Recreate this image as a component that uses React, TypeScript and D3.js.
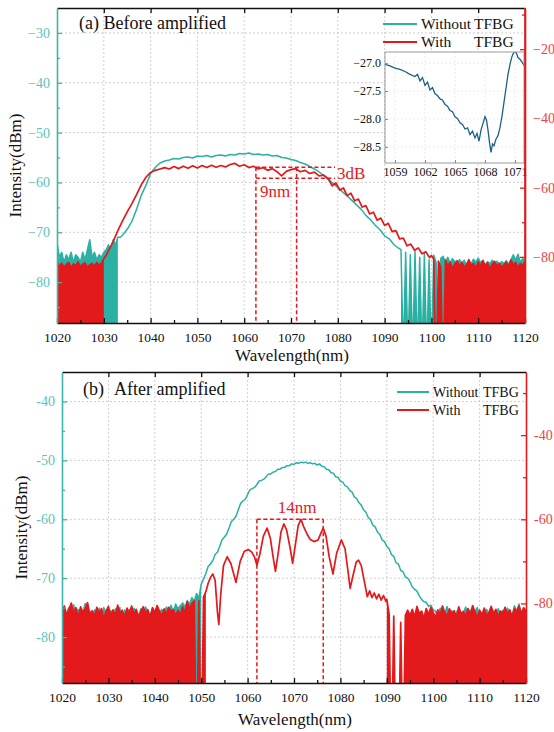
import { useEffect, useRef } from 'react'
import * as d3 from 'd3'

type Pt = [number, number]

const TEAL = '#2bb0a4'
const TEAL_AXIS = '#3db5aa'
const TEAL_TEXT = '#5cc3b8'
const RED = '#e3191c'
const RED_TEXT = '#ec4246'
const INSET_LINE = '#1c6283'
const FONT = 'Liberation Serif, DejaVu Serif, serif'
const NOISE_STEP = 0.5

// wavelength ticks (nm)
const xMajor = [1020, 1030, 1040, 1050, 1060, 1070, 1080, 1090, 1100, 1110, 1120]
const xMinor = [1025, 1035, 1045, 1055, 1065, 1075, 1085, 1095, 1105, 1115]

// ---------- (a) Before amplified ----------
// teal = without TFBG (left axis, dBm), red = with TFBG (right axis, dBm)
const aTealNoiseLeft = [ // from 1020 nm, 0.5 nm apart
  -72.0, -75.0, -74.0, -76.0, -74.5, -75.5, -74.0, -76.0, -74.5, -75.0,
  -76.0, -74.0, -75.5, -73.5, -71.5, -75.0, -74.0, -75.5, -74.5, -75.0,
  -74.0, -73.5, -72.5, -73.8, -71.5, -72.5, -71.0,
]
const aTealCurve: Pt[] = [
  [1033.5, -71.0], [1034, -70.6], [1035, -69.4], [1036, -67.8], [1037, -65.4], [1038, -62.6],
  [1039, -60.6], [1040, -58.2], [1041, -57.0], [1042, -56.1], [1043, -55.7], [1044, -55.5],
  [1045, -55.2], [1046, -55.3], [1047, -55.0], [1048, -54.9], [1049, -55.1], [1050, -54.7],
  [1051, -54.8], [1052, -54.6], [1053, -54.9], [1054, -54.6], [1055, -54.5], [1056, -54.7],
  [1057, -54.4], [1058, -54.5], [1059, -54.2], [1060, -54.3], [1061, -54.1], [1062, -54.4],
  [1063, -54.3], [1064, -54.5], [1065, -54.4], [1066, -54.7], [1067, -54.6], [1068, -55.0],
  [1069, -55.1], [1070, -55.4], [1071, -55.6], [1072, -56.0], [1073, -56.3], [1074, -56.8],
  [1075, -57.3], [1076, -57.9], [1077, -58.6], [1078, -59.4], [1079, -60.2], [1080, -61.0],
  [1081, -61.9], [1082, -62.7], [1083, -63.6], [1084, -64.5], [1085, -65.4], [1086, -66.6],
  [1087, -67.5], [1088, -68.6], [1089, -69.5], [1090, -70.7], [1091, -71.3], [1092, -72.5],
  [1093, -73.2],
]
const aTealNoiseRight = [ // from 1093.5 nm
  -73.5, -95.0, -74.0, -95.0, -74.5, -95.0, -73.8, -95.0, -75.0, -95.0,
  -74.2, -95.0, -75.5, -95.0, -74.6, -76.0, -95.0, -75.2, -74.8, -76.0,
  -75.0, -76.2, -75.3, -75.8, -76.4, -75.5, -76.2, -75.6, -76.6, -75.8,
  -76.3, -75.4, -76.0, -75.2, -76.1, -75.7, -76.5, -75.9, -76.3, -75.6,
  -76.2, -75.8, -76.6, -75.9, -76.3, -75.7, -76.4, -75.5, -74.5, -75.6,
  -74.4, -76.0, -75.3, -76.0,
]
const aRedNoiseLeft = [ // from 1020 nm
  -81.5, -82.8, -81.8, -83.0, -82.2, -81.6, -83.2, -82.0, -82.6, -81.4,
  -82.9, -82.1, -81.7, -83.0, -82.3, -81.9, -82.7, -81.6, -82.4, -81.8,
  -80.5,
]
const aRedCurve: Pt[] = [
  [1030.5, -79.6], [1031, -78.2], [1032, -75.6], [1033, -72.4], [1034, -69.6], [1035, -67.0],
  [1036, -64.6], [1037, -62.0], [1038, -59.2], [1039, -57.0], [1040, -55.6], [1041, -55.0],
  [1042, -54.6], [1043, -54.2], [1044, -54.6], [1045, -53.9], [1046, -54.5], [1047, -53.8],
  [1048, -54.4], [1049, -53.7], [1050, -54.3], [1051, -53.6], [1052, -54.2], [1053, -53.5],
  [1054, -54.1], [1055, -53.6], [1056, -54.0], [1057, -53.3], [1058, -53.0], [1059, -53.8],
  [1060, -53.4], [1061, -54.2], [1062, -53.8], [1063, -54.6], [1064, -54.2], [1065, -55.0],
  [1066, -54.5], [1067, -55.4], [1068, -56.6], [1069, -55.3], [1070, -54.8], [1071, -54.5],
  [1072, -55.4], [1073, -55.0], [1074, -55.9], [1075, -55.5], [1076, -56.6], [1077, -56.4],
  [1078, -57.5], [1078.8, -59.5], [1079.6, -58.6], [1080.4, -60.7], [1081.2, -60.1], [1082, -62.3],
  [1082.8, -61.6], [1083.6, -63.8], [1084.4, -63.3], [1085.2, -65.6], [1086, -65.2], [1086.8, -67.6],
  [1087.6, -67.1], [1088.4, -69.4], [1089.2, -68.8], [1090, -70.9], [1090.8, -70.3], [1091.6, -72.7],
  [1092.4, -72.4], [1093.2, -74.8], [1094, -74.6], [1094.8, -76.8], [1095.6, -76.3], [1096.4, -78.1],
  [1097.2, -77.4], [1098, -79.1], [1098.8, -78.5], [1099.6, -80.2], [1100, -79.6],
]
const aRedNoiseRight = [ // from 1100.5 nm
  -80.6, -120, -81.2, -83.0, -120, -80.9, -82.7, -81.5, -83.4, -82.0,
  -81.1, -82.8, -81.6, -83.1, -82.2, -80.8, -82.5, -81.9, -83.3, -81.4,
  -82.6, -81.0, -82.9, -81.7, -83.5, -82.1, -81.3, -82.7, -81.8, -83.0,
  -82.3, -81.5, -82.8, -80.9, -82.4, -81.6, -83.2, -81.9, -82.5, -81.2,
]
// 3 dB / 9 nm marker (right axis units)
const aBand = [1062.5, 1071.2]
const aBandEnd = 1079.4
const aLevels = [-54.1, -57.3]

// inset: zoom of the with-TFBG spectrum
const insetCurve: Pt[] = [
  [1058.0, -27.02], [1058.5, -27.05], [1059.0, -27.09], [1059.5, -27.11], [1060.0, -27.15],
  [1060.5, -27.2], [1061.0, -27.24], [1061.25, -27.2], [1061.5, -27.32], [1061.75, -27.26],
  [1062.0, -27.4], [1062.25, -27.34], [1062.5, -27.48], [1062.75, -27.44], [1063.0, -27.55],
  [1063.25, -27.58], [1063.5, -27.64], [1063.75, -27.66], [1064.0, -27.74], [1064.25, -27.77],
  [1064.5, -27.85], [1064.75, -27.87], [1065.0, -27.96], [1065.25, -27.99], [1065.5, -28.07],
  [1065.75, -28.1], [1066.0, -28.18], [1066.25, -28.16], [1066.5, -28.28], [1066.75, -28.22],
  [1067.0, -28.34], [1067.2, -28.26], [1067.4, -28.4], [1067.6, -28.2], [1067.8, -28.08],
  [1068.0, -27.96], [1068.15, -28.02], [1068.3, -28.2], [1068.45, -28.42], [1068.6, -28.6],
  [1068.75, -28.45], [1068.9, -28.48], [1069.1, -28.36], [1069.3, -28.3], [1069.5, -28.15],
  [1069.7, -27.95], [1069.9, -27.7], [1070.1, -27.45], [1070.3, -27.2], [1070.5, -27.02],
  [1070.7, -26.88], [1070.9, -26.8], [1071.1, -26.8], [1071.3, -26.9], [1071.5, -26.93],
  [1071.7, -26.98], [1071.9, -27.04],
]
const insetXTicks = [1059, 1062, 1065, 1068, 1071]
const insetYTicks = [-27.0, -27.5, -28.0, -28.5]

// ---------- (b) After amplified ----------
const bTealNoiseLeft = [ // from 1020 nm
  -75.5, -76.8, -75.9, -75.0, -76.4, -74.5, -76.1, -75.3, -76.7, -75.8,
  -74.3, -76.2, -75.6, -76.9, -75.4, -76.0, -75.1, -76.5, -75.0, -75.8,
  -76.3, -75.5, -76.7, -75.2, -75.9, -75.0, -94.0, -75.4, -76.2, -75.3,
  -76.0, -75.1, -75.7, -76.4, -75.2, -75.8, -74.9, -75.6, -76.3, -75.1,
  -75.7, -74.8, -75.9, -75.3, -76.1, -74.9, -75.5, -74.6, -75.8, -74.4,
  -75.2, -74.7, -74.2, -74.9, -73.8, -74.4, -73.3, -73.9, -72.6, -73.4,
  -71.0,
]
const bTealCurve = [ // from 1050.5 nm
  -70.2, -69.2, -68.0, -67.6, -67.0, -66.0, -65.6, -64.6, -63.5, -63.0,
  -62.5, -61.5, -60.4, -60.0, -59.5, -58.4, -57.3, -56.9, -56.6, -55.8,
  -55.0, -54.8, -54.6, -54.1, -53.5, -53.4, -53.2, -52.8, -52.3, -52.3,
  -52.0, -51.9, -51.5, -51.5, -51.2, -51.2, -50.9, -50.9, -50.6, -50.7,
  -50.4, -50.5, -50.3, -50.4, -50.3, -50.5, -50.4, -50.6, -50.5, -50.8,
  -50.6, -51.0, -51.1, -51.5, -51.6, -52.1, -52.2, -52.8, -52.9, -53.5,
  -53.7, -54.3, -54.5, -55.1, -55.4, -56.2, -56.5, -57.2, -57.6, -58.4,
  -58.8, -59.7, -60.1, -61.0, -61.3, -62.2, -62.6, -63.5, -63.8, -64.6,
  -65.0, -66.0, -66.3, -67.4, -67.6, -68.7, -68.9, -69.8, -70.0, -70.6,
  -71.5, -71.9, -72.2, -73.0, -73.6, -74.0, -74.1, -74.8, -74.6, -75.4,
]
const bTealNoiseRight = [ // from 1100.5 nm
  -75.6, -76.4, -75.1, -76.8, -75.9, -74.8, -76.2, -75.5, -77.0, -75.8,
  -75.2, -76.6, -75.9, -74.9, -76.3, -75.4, -76.9, -75.7, -75.0, -76.5,
  -75.8, -76.9, -75.3, -76.1, -74.9, -75.7, -76.6, -75.2, -76.0, -75.5,
  -76.8, -75.1, -75.9, -76.4, -74.7, -75.6, -74.4, -76.2, -75.4, -75.9,
]
const bRedNoiseLeft = [ // from 1020 nm
  -81.8, -80.6, -82.9, -81.4, -79.9, -82.3, -81.0, -83.4, -80.8, -82.1,
  -81.3, -79.8, -82.6, -81.7, -83.1, -80.9, -82.4, -81.2, -83.6, -81.9,
  -80.7, -82.8, -81.5, -83.0, -80.4, -82.2, -81.6, -83.3, -81.1, -82.5,
  -80.6, -82.7, -81.4, -83.2, -81.9, -80.8, -82.3, -81.5, -83.5, -81.0,
  -82.4, -80.5, -81.8, -83.1, -81.3, -82.6, -80.9, -82.0, -81.4, -83.0,
  -81.6, -82.8, -80.8, -82.2, -79.6, -81.4, -80.0, -79.4, -120, -79.3,
  -120, -78.5, -77.2,
]
const bRedCurve: Pt[] = [
  [1051.5, -75.2], [1052, -73.8], [1052.5, -73.0], [1053, -74.5], [1053.5, -82.0], [1053.8, -85.0],
  [1054.2, -78.0], [1054.8, -71.0], [1055.6, -68.9], [1056.4, -70.5], [1057.5, -75.0], [1058.4, -70.0],
  [1059.3, -67.6], [1060.2, -67.2], [1060.9, -67.8], [1061.5, -69.0], [1062.0, -70.9], [1062.6, -68.5],
  [1063.4, -64.0], [1064.2, -62.1], [1064.9, -64.5], [1065.5, -69.0], [1066.0, -72.4], [1066.6, -68.0],
  [1067.2, -63.0], [1067.8, -61.1], [1068.4, -62.5], [1069.2, -67.0], [1069.7, -70.5], [1070.3, -66.0],
  [1070.9, -61.5], [1071.5, -60.0], [1072.1, -61.8], [1072.8, -63.5], [1073.5, -64.8], [1074.3, -65.3],
  [1075.2, -64.9], [1075.8, -63.3], [1076.3, -62.1], [1076.9, -64.0], [1077.6, -69.0], [1078.4, -73.0],
  [1079.2, -68.0], [1080.2, -64.9], [1081.0, -67.0], [1081.6, -72.0], [1082.1, -76.4], [1082.8, -73.0],
  [1083.4, -70.2], [1083.9, -69.7], [1084.5, -71.0], [1085.2, -75.0], [1085.8, -78.4], [1086.3, -77.0],
  [1086.8, -78.6], [1087.3, -77.5], [1087.8, -78.9], [1088.3, -77.8], [1088.8, -79.2], [1089.3, -78.1],
  [1089.8, -79.5],
]
const bRedNoiseRight = [ // from 1090 nm
  -79.0, -82.5, -120, -83.0, -120, -120, -84.5, -120, -82.8, -81.6,
  -82.9, -81.4, -83.2, -80.7, -82.4, -81.8, -83.5, -81.2, -82.6, -80.9,
  -82.1, -83.4, -81.5, -82.8, -80.6, -82.2, -83.0, -81.3, -82.5, -81.7,
  -83.3, -80.8, -82.4, -81.9, -83.1, -81.2, -82.7, -80.5, -82.0, -83.4,
  -81.6, -82.8, -81.1, -83.0, -82.2, -80.7, -82.5, -81.4, -83.2, -81.8,
  -82.3, -80.9, -82.6, -81.5, -83.1, -81.2, -82.0, -80.6, -82.4, -81.0,
  -81.8,
]
// 14 nm marker (right axis units)
const bBand = [1062.0, 1076.3]
const bLevel = -60

const spread = (start: number, vals: number[]): Pt[] => vals.map((v, i) => [start + i * NOISE_STEP, v])

const panels = [
  {
    id: 'a', left: 57, right: 525, top: 8, bottom: 323,
    yLeftDomain: [-88.2, -25], yRightDomain: [-99.1, -8.1],
    leftMajor: [-80, -70, -60, -50, -40, -30], leftMinor: [-85, -75, -65, -55, -45, -35],
    rightMajor: [-80, -60, -40, -20], rightMinor: [-90, -70, -50, -30, -10],
    minus: '\u2212', xPad: 9.5, yLabelX: 21, xLabelY: 361,
    teal: { noise: [spread(1020, aTealNoiseLeft), spread(1093.5, aTealNoiseRight)], curve: aTealCurve },
    red: { noise: [spread(1020, aRedNoiseLeft), spread(1100.5, aRedNoiseRight)], curve: aRedCurve },
    title: [{ t: '(a) Before amplified', x: 79 }], titleY: 29,
    legend: { x0: 383, x1: 417, tx: 421, tx2: 474, y: 24, size: 15.5 },
  },
  {
    id: 'b', left: 62, right: 526, top: 372, bottom: 683,
    yLeftDomain: [-87.8, -35], yRightDomain: [-98.9, -25],
    leftMajor: [-80, -70, -60, -50, -40], leftMinor: [-85, -75, -65, -55, -45],
    rightMajor: [-80, -60, -40], rightMinor: [-90, -70, -50, -30],
    minus: '-', xPad: 9.5, yLabelX: 27, xLabelY: 725,
    teal: { noise: [spread(1020, bTealNoiseLeft), spread(1100.5, bTealNoiseRight)], curve: spread(1050.5, bTealCurve) },
    red: { noise: [spread(1020, bRedNoiseLeft), spread(1090, bRedNoiseRight)], curve: bRedCurve },
    title: [{ t: '(b)', x: 83 }, { t: 'After amplified', x: 114 }], titleY: 395,
    legend: { x0: 397, x1: 429, tx: 433, tx2: 483, y: 392, size: 14 },
  },
]

export default function App() {
  const svgRef = useRef<SVGSVGElement>(null)

  useEffect(() => {
    const svg = d3.select(svgRef.current)
    svg.selectAll('*').remove()
    svg.append('rect').attr('width', 554).attr('height', 732).attr('fill', '#fff')

    panels.forEach((p) => {
      const x = d3.scaleLinear().domain([1020, 1120]).range([p.left, p.right])
      const yL = d3.scaleLinear().domain(p.yLeftDomain).range([p.bottom, p.top])
      const yR = d3.scaleLinear().domain(p.yRightDomain).range([p.bottom, p.top])
      const fmt = (d: d3.NumberValue) => String(d).replace('-', p.minus)
      const g = svg.append('g')

      // grid
      const grid = g.append('g').attr('stroke', '#c4c4c4').attr('stroke-width', 0.8).attr('stroke-dasharray', '2,2')
      xMajor.slice(1, -1).forEach((v) =>
        grid.append('line').attr('x1', x(v)).attr('x2', x(v)).attr('y1', p.top).attr('y2', p.bottom))
      p.leftMajor.forEach((v) =>
        grid.append('line').attr('x1', p.left).attr('x2', p.right).attr('y1', yL(v)).attr('y2', yL(v)))

      // series
      const clipId = `clip-${p.id}`
      svg.append('clipPath').attr('id', clipId).append('rect')
        .attr('x', p.left).attr('y', p.top).attr('width', p.right - p.left).attr('height', p.bottom - p.top)
      const plot = g.append('g').attr('clip-path', `url(#${clipId})`)
      const drawSeries = (s: { noise: Pt[][]; curve: Pt[] }, y: d3.ScaleLinear<number, number>, color: string, w: number) => {
        const area = d3.area<Pt>().x((d) => x(d[0])).y0(p.bottom).y1((d) => y(d[1]))
        s.noise.forEach((n) => plot.append('path').attr('d', area(n)).attr('fill', color))
        const line = d3.line<Pt>().x((d) => x(d[0])).y((d) => y(d[1]))
        plot.append('path')
          .attr('d', line([...s.noise[0], ...s.curve, ...s.noise[1]]))
          .attr('fill', 'none').attr('stroke', color).attr('stroke-width', w).attr('stroke-linejoin', 'round')
      }
      drawSeries(p.teal, yL, TEAL, 1.5)
      drawSeries(p.red, yR, RED, 1.7)

      // markers
      const mk = g.append('g').attr('stroke', RED).attr('stroke-width', 1.5).attr('stroke-dasharray', '4,2.5').attr('fill', 'none')
      if (p.id === 'a') {
        aLevels.forEach((lv) =>
          mk.append('line').attr('x1', x(aBand[0])).attr('x2', x(aBandEnd)).attr('y1', yR(lv)).attr('y2', yR(lv)))
        aBand.forEach((b) =>
          mk.append('line').attr('x1', x(b)).attr('x2', x(b)).attr('y1', yR(aLevels[0])).attr('y2', p.bottom))
        g.append('text').attr('x', x(aBandEnd) + 2).attr('y', yR(aLevels[1]) + 1).text('3dB')
          .attr('fill', RED).attr('font-family', FONT).attr('font-size', 17)
        g.append('text').attr('x', x(aBand[0]) + 4).attr('y', yR(aLevels[1]) + 19).text('9nm')
          .attr('fill', RED).attr('font-family', FONT).attr('font-size', 17)
      } else {
        mk.append('line').attr('x1', x(bBand[0])).attr('x2', x(bBand[1])).attr('y1', yR(bLevel)).attr('y2', yR(bLevel))
        bBand.forEach((b) =>
          mk.append('line').attr('x1', x(b)).attr('x2', x(b)).attr('y1', yR(bLevel)).attr('y2', p.bottom))
        g.append('text').attr('x', (x(bBand[0]) + x(bBand[1])) / 2 + 7).attr('y', yR(bLevel) - 6.5).text('14nm')
          .attr('text-anchor', 'middle').attr('fill', RED).attr('font-family', FONT).attr('font-size', 17)
      }

      // axes
      const addAxis = (axis: d3.Axis<d3.NumberValue>, tr: string, color: string, textColor: string, size: number, keepDomain: boolean) => {
        const a = g.append('g').attr('transform', tr).call(axis)
        a.attr('font-family', FONT).attr('font-size', size)
        a.selectAll('.domain').attr('stroke', color).attr('stroke-width', 1.6)
        a.selectAll('.tick line').attr('stroke', color).attr('stroke-width', 1.3)
        a.selectAll('.tick text').attr('fill', textColor)
        if (!keepDomain) a.select('.domain').remove()
      }
      const blank = () => ''
      const xfmt = d3.format('d')
      addAxis(d3.axisBottom(x).tickValues(xMinor).tickSize(-3).tickFormat(blank), `translate(0,${p.bottom})`, '#111', '#111', 13.5, false)
      addAxis(d3.axisBottom(x).tickValues(xMajor).tickSize(-5).tickSizeOuter(0).tickPadding(p.xPad).tickFormat(xfmt), `translate(0,${p.bottom})`, '#111', '#111', 13.5, true)
      addAxis(d3.axisTop(x).tickValues(xMajor.slice(1, -1)).tickSize(-5).tickSizeOuter(0).tickFormat(blank), `translate(0,${p.top})`, '#111', '#111', 13.5, true)
      addAxis(d3.axisLeft(yL).tickValues(p.leftMinor).tickSize(-3).tickFormat(blank), `translate(${p.left},0)`, TEAL_AXIS, TEAL_TEXT, 14, false)
      addAxis(d3.axisLeft(yL).tickValues(p.leftMajor).tickSize(-5).tickSizeOuter(0).tickPadding(7).tickFormat(fmt), `translate(${p.left},0)`, TEAL_AXIS, TEAL_TEXT, 14, true)
      addAxis(d3.axisRight(yR).tickValues(p.rightMinor).tickSize(-3).tickFormat(blank), `translate(${p.right},0)`, RED, RED_TEXT, 14, false)
      addAxis(d3.axisRight(yR).tickValues(p.rightMajor).tickSize(-5).tickSizeOuter(0).tickPadding(8).tickFormat(fmt), `translate(${p.right},0)`, RED, RED_TEXT, 14, true)

      // axis titles
      g.append('text').attr('transform', `translate(${p.yLabelX},${(p.top + p.bottom) / 2}) rotate(-90)`)
        .attr('text-anchor', 'middle').attr('font-family', FONT).attr('font-size', 17).attr('fill', '#111')
        .text('Intensity(dBm)')
      g.append('text').attr('x', (p.left + p.right) / 2 + 1).attr('y', p.xLabelY)
        .attr('text-anchor', 'middle').attr('font-family', FONT).attr('font-size', 17).attr('fill', '#111')
        .text('Wavelength(nm)')

      // panel title
      p.title.forEach((t) =>
        g.append('text').attr('x', t.x).attr('y', p.titleY).attr('font-family', FONT).attr('font-size', 18)
          .attr('fill', '#111').text(t.t))

      // legend
      const lg = p.legend
      ;[{ c: TEAL, a: 'Without', b: 'TFBG' }, { c: RED, a: 'With', b: 'TFBG' }].forEach((e, i) => {
        const yy = lg.y + i * 18
        g.append('line').attr('x1', lg.x0).attr('x2', lg.x1).attr('y1', yy).attr('y2', yy)
          .attr('stroke', e.c).attr('stroke-width', 2)
        const tx = g.append('g').attr('font-family', FONT).attr('font-size', lg.size).attr('fill', '#111')
        tx.append('text').attr('x', lg.tx).attr('y', yy + 5).text(e.a)
        tx.append('text').attr('x', lg.tx2).attr('y', yy + 5).text(e.b)
      })

      // inset
      if (p.id === 'a') {
        const ix = d3.scaleLinear().domain([1058, 1071.9]).range([385, 524])
        const iy = d3.scaleLinear().domain([-28.79, -26.8]).range([163, 52])
        const ig = g.append('g')
        ig.append('rect').attr('x', 385).attr('y', 52).attr('width', 139).attr('height', 111).attr('fill', '#fff')
        const igrid = ig.append('g').attr('stroke', '#e2e2e2').attr('stroke-width', 0.7).attr('stroke-dasharray', '2,2')
        insetXTicks.forEach((v) => igrid.append('line').attr('x1', ix(v)).attr('x2', ix(v)).attr('y1', 52).attr('y2', 163))
        insetYTicks.forEach((v) => igrid.append('line').attr('x1', 385).attr('x2', 524).attr('y1', iy(v)).attr('y2', iy(v)))
        svg.append('clipPath').attr('id', 'clip-inset').append('rect').attr('x', 385).attr('y', 52).attr('width', 139).attr('height', 111)
        ig.append('path').attr('clip-path', 'url(#clip-inset)')
          .attr('d', d3.line<Pt>().x((d) => ix(d[0])).y((d) => iy(d[1]))(insetCurve))
          .attr('fill', 'none').attr('stroke', INSET_LINE).attr('stroke-width', 1.3)
        ig.append('rect').attr('x', 385).attr('y', 52).attr('width', 139).attr('height', 111)
          .attr('fill', 'none').attr('stroke', '#999').attr('stroke-width', 1)
        const ia = ig.append('g').attr('transform', 'translate(0,163)')
          .call(d3.axisBottom(ix).tickValues(insetXTicks).tickSize(-3).tickSizeOuter(0).tickPadding(4).tickFormat(d3.format('d')))
        const il = ig.append('g').attr('transform', 'translate(385,0)')
          .call(d3.axisLeft(iy).tickValues(insetYTicks).tickSize(-3).tickSizeOuter(0).tickPadding(4).tickFormat(d3.format('.1f')))
        ;[ia, il].forEach((a) => {
          a.attr('font-family', FONT).attr('font-size', 12)
          a.select('.domain').remove()
          a.selectAll('.tick line').attr('stroke', '#888')
          a.selectAll('.tick text').attr('fill', '#111')
        })
        // redraw red axis over inset edge
        g.append('line').attr('x1', p.right).attr('x2', p.right).attr('y1', p.top).attr('y2', p.bottom)
          .attr('stroke', RED).attr('stroke-width', 1.6)
      }
    })
  }, [])

  return (
    <svg ref={svgRef} width={554} height={732} style={{ position: 'absolute', left: 0, top: 0, fontFamily: 'Liberation Serif' }} />
  )
}
